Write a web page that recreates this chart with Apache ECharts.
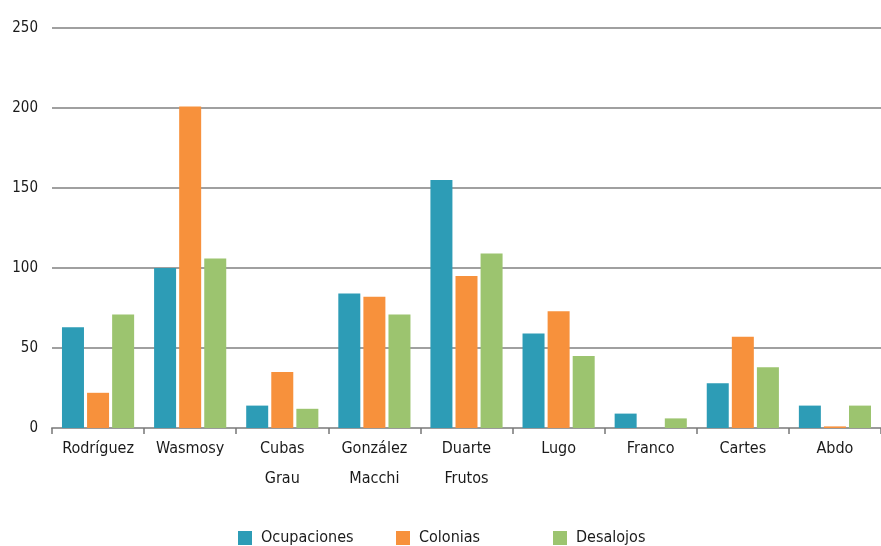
<!DOCTYPE html>
<html><head><meta charset="utf-8">
<script src="https://cdn.jsdelivr.net/npm/echarts@6/dist/echarts.min.js"></script>
<style>html,body{margin:0;padding:0;background:#fff}#c{width:881px;height:546px}</style>
</head><body><div id="c"></div>
<script>
const categories = ['Rodríguez','Wasmosy','Cubas\nGrau','González\nMacchi','Duarte\nFrutos','Lugo','Franco','Cartes','Abdo'];
const ocupaciones = [63,100,14,84,155,59,9,28,14];
const colonias = [22,201,35,82,95,73,0,57,1];
const desalojos = [71,106,12,71,109,45,6,38,14];
const yTicks = [0,50,100,150,200,250];

const FONT = "'DejaVu Sans Condensed','Liberation Sans Narrow',sans-serif";
const chart = echarts.init(document.getElementById('c'));
const legendBase = {orient:'horizontal', top:525, itemWidth:14, itemHeight:14, itemGap:8,
  textStyle:{fontFamily:FONT,fontSize:16,color:'#1a1a1a',padding:[0,0,0,4]}, icon:'rect', selectedMode:false};
chart.setOption({
  animation:false,
  grid:{left:52, top:28, width:838, height:400, containLabel:false},
  legend:[
    Object.assign({}, legendBase, {left:233, data:['Ocupaciones']}),
    Object.assign({}, legendBase, {left:391, data:['Colonias']}),
    Object.assign({}, legendBase, {left:548, data:['Desalojos']})
  ],
  xAxis:{type:'category', data:categories, boundaryGap:true,
    axisLine:{lineStyle:{color:'#9a9a9a',width:2}},
    axisTick:{show:true,length:6,lineStyle:{color:'#777',width:1.5}},
    axisLabel:{fontFamily:FONT,fontSize:16,color:'#1a1a1a',margin:6,lineHeight:30,interval:0}},
  yAxis:{type:'value', min:yTicks[0], max:yTicks[yTicks.length-1], interval:50,
    axisLine:{show:false}, axisTick:{show:false},
    splitLine:{lineStyle:{color:'#a0a0a0',width:2}},
    axisLabel:{fontFamily:FONT,fontSize:15,color:'#1a1a1a',margin:14}},
  series:[
    {name:'Ocupaciones',type:'bar',data:ocupaciones,barWidth:22,barGap:'14%',itemStyle:{color:'#2d9cb6'}},
    {name:'Colonias',type:'bar',data:colonias,barWidth:22,barGap:'14%',itemStyle:{color:'#f7913c'}},
    {name:'Desalojos',type:'bar',data:desalojos,barWidth:22,barGap:'14%',itemStyle:{color:'#9cc46f'}}
  ]
});
</script></body></html>
